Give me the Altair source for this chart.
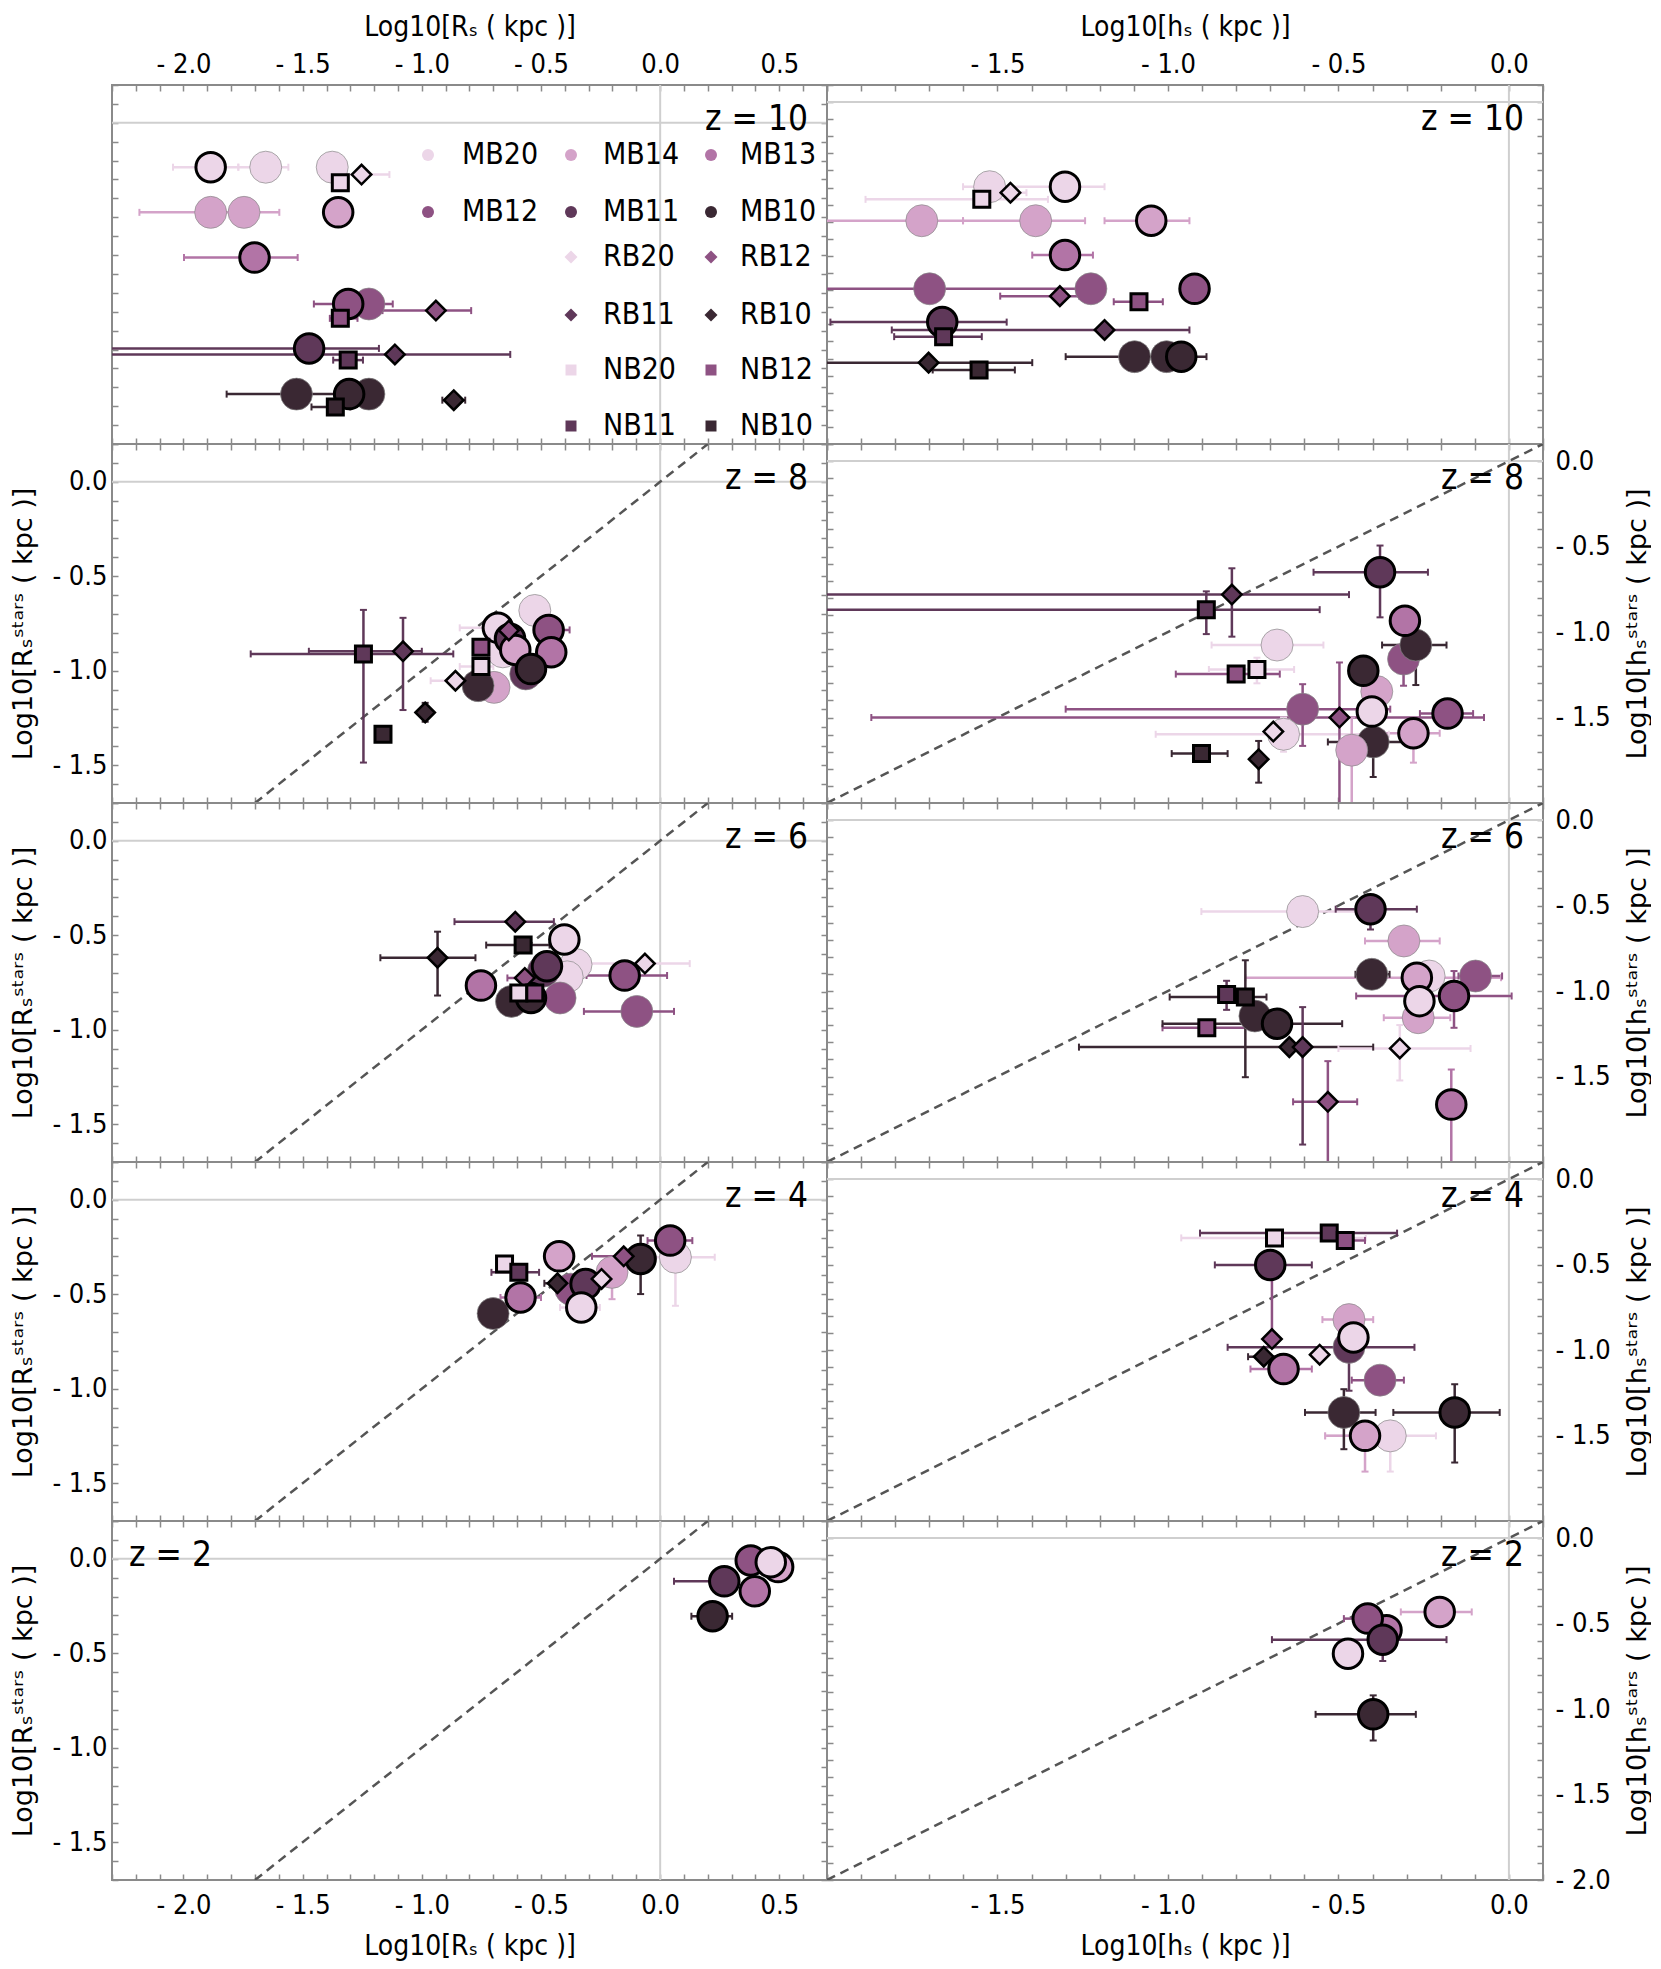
import altair as alt
import pandas as pd

# ---------------- data ----------------
GROUPS = ["20", "14", "13", "12", "11", "10"]
GROUP_COLORS = ["#ecd6e8", "#d4a3c9", "#b274a6", "#8e5283", "#5f3859", "#3a2833"]
LEGEND_NAMES = ["MB20", "MB14", "MB13", "MB12", "MB11", "MB10",
                "RB20", "RB12", "RB11", "RB10", "NB20", "NB12", "NB11", "NB10"]
Z_LABELS = ["z = 10", "z = 8", "z = 6", "z = 4", "z = 2"]

# (name, outlined, x, y, x_lo, x_hi, y_lo, y_hi)
L10 = [
    ("MB20", 0, -1.655, -0.235, -1.77, -1.56, None, None),
    ("MB20", 0, -1.376, -0.235, None, None, None, None),
    ("MB20", 1, -1.886, -0.235, -2.044, -1.77, None, None),
    ("RB20", 1, -1.253, -0.274, -1.367, -1.136, None, None),
    ("NB20", 1, -1.342, -0.318, None, None, None, None),
    ("MB14", 0, -1.886, -0.474, -2.185, -1.598, None, None),
    ("MB14", 0, -1.746, -0.474, None, None, None, None),
    ("MB14", 1, -1.351, -0.474, None, None, None, None),
    ("MB13", 1, -1.702, -0.713, -1.998, -1.521, None, None),
    ("MB12", 0, -1.222, -0.959, None, None, None, None),
    ("MB12", 1, -1.309, -0.959, -1.453, -1.122, None, None),
    ("RB12", 1, -0.941, -0.994, -1.165, -0.793, None, None),
    ("NB12", 1, -1.342, -1.035, -1.386, -1.27, None, None),
    ("MB11", 1, -1.473, -1.194, -2.5, -1.18, None, None),
    ("RB11", 1, -1.113, -1.226, -2.5, -0.629, None, None),
    ("NB11", 1, -1.309, -1.256, -1.372, -1.247, None, None),
    ("MB10", 0, -1.526, -1.436, -1.819, -1.367, None, None),
    ("MB10", 0, -1.222, -1.436, None, None, None, None),
    ("MB10", 1, -1.305, -1.436, None, None, None, None),
    ("NB10", 1, -1.363, -1.504, -1.463, -1.30, None, None),
    ("RB10", 1, -0.866, -1.468, -0.914, -0.818, None, None),
]
R10 = [
    ("MB20", 0, -1.523, -0.495, None, None, None, None),
    ("MB20", 1, -1.302, -0.495, -1.601, -1.186, None, None),
    ("NB20", 1, -1.546, -0.569, -1.887, -1.352, None, None),
    ("RB20", 1, -1.462, -0.530, -1.50, -1.415, None, None),
    ("MB14", 0, -1.722, -0.694, -2.1, -1.601, None, None),
    ("MB14", 0, -1.388, -0.694, -1.601, -1.243, None, None),
    ("MB14", 1, -1.049, -0.694, -1.186, -0.937, None, None),
    ("MB13", 1, -1.302, -0.895, -1.398, -1.22, None, None),
    ("MB12", 0, -1.699, -1.092, -2.1, -1.25, None, None),
    ("MB12", 0, -1.226, -1.092, None, None, None, None),
    ("MB12", 1, -0.922, -1.092, None, None, None, None),
    ("RB12", 1, -1.317, -1.135, -1.492, -1.26, None, None),
    ("NB12", 1, -1.085, -1.168, -1.159, -1.015, None, None),
    ("MB11", 1, -1.662, -1.287, -1.99, -1.473, None, None),
    ("RB11", 1, -1.186, -1.333, -1.81, -0.937, None, None),
    ("NB11", 1, -1.658, -1.372, -1.803, -1.546, None, None),
    ("MB10", 0, -1.098, -1.489, -1.30, -0.887, None, None),
    ("MB10", 0, -1.004, -1.489, None, None, None, None),
    ("MB10", 1, -0.961, -1.489, None, None, None, None),
    ("RB10", 1, -1.702, -1.524, -2.1, -1.398, None, None),
    ("NB10", 1, -1.554, -1.567, -1.69, -1.449, None, None),
]
L8 = [
    ("NB11", 1, -1.245, -0.911, -1.718, -0.868, -1.486, -0.678),
    ("RB11", 1, -1.079, -0.897, -1.474, -1.0, -1.208, -0.720),
    ("RB10", 1, -0.986, -1.221, None, None, -1.27, -1.17),
    ("NB10", 1, -1.163, -1.336, None, None, None, None),
    ("RB20", 1, -0.859, -1.053, -0.963, -0.764, None, None),
    ("MB20", 0, -0.526, -0.681, None, None, None, None),
    ("MB20", 0, -0.660, -0.900, None, None, None, None),
    ("MB14", 0, -0.697, -1.088, None, None, None, None),
    ("MB10", 0, -0.764, -1.079, None, None, None, None),
    ("MB11", 0, -0.564, -1.017, None, None, None, None),
    ("NB12", 1, -0.752, -0.876, None, None, None, None),
    ("NB20", 1, -0.752, -0.978, -0.841, -0.70, None, None),
    ("MB20", 1, -0.681, -0.773, -0.841, -0.62, None, None),
    ("MB11", 1, -0.630, -0.831, None, None, None, None),
    ("RB12", 1, -0.635, -0.787, None, None, None, None),
    ("MB14", 1, -0.608, -0.890, None, None, None, None),
    ("MB12", 1, -0.468, -0.784, -0.53, -0.38, None, None),
    ("MB13", 1, -0.457, -0.902, None, None, None, None),
    ("MB10", 1, -0.542, -0.991, None, None, None, None),
]
R8 = [
    ("RB11", 1, -0.8125, -0.781, -2.1, -0.469, -1.027, -0.627),
    ("NB11", 1, -0.8875, -0.869, -2.1, -0.555, -1.012, -0.762),
    ("MB11", 1, -0.378, -0.650, -0.573, -0.2375, -0.914, -0.494),
    ("MB13", 1, -0.305, -0.934, None, None, None, None),
    ("MB12", 0, -0.309, -1.158, None, None, -1.314, -1.0),
    ("MB10", 0, -0.273, -1.076, -0.372, -0.183, -1.31, None),
    ("MB20", 0, -0.680, -1.076, -0.872, -0.544, None, None),
    ("NB20", 1, -0.739, -1.219, -0.88, -0.63, -1.30, -1.15),
    ("NB12", 1, -0.800, -1.246, -0.977, -0.672, None, None),
    ("MB14", 0, -0.3875, -1.348, None, None, None, None),
    ("MB10", 1, -0.427, -1.227, None, None, None, None),
    ("MB12", 0, -0.605, -1.451, -1.30, -0.348, -1.666, -1.305),
    ("RB12", 1, -0.497, -1.500, -1.87, -0.073, -2.1, -1.178),
    ("MB20", 1, -0.402, -1.465, None, None, None, None),
    ("MB12", 1, -0.180, -1.477, -0.261, -0.105, None, None),
    ("MB20", 0, -0.661, -1.598, -1.036, -0.352, -1.70, -1.50),
    ("RB20", 1, -0.691, -1.582, None, None, None, None),
    ("MB14", 1, -0.280, -1.592, -0.367, -0.203, -1.764, None),
    ("MB10", 0, -0.398, -1.643, -0.531, -0.305, -1.848, None),
    ("MB14", 0, -0.461, -1.691, None, None, -2.1, -1.5),
    ("NB10", 1, -0.9016, -1.711, -0.989, -0.825, None, None),
    ("RB10", 1, -0.734, -1.744, None, None, -1.881, -1.637),
]
L6 = [
    ("RB10", 1, -0.934, -0.619, -1.174, -0.775, -0.819, -0.481),
    ("RB11", 1, -0.608, -0.428, -0.863, -0.446, None, None),
    ("NB10", 1, -0.575, -0.552, -0.73, -0.464, None, None),
    ("MB20", 0, -0.353, -0.655, None, None, None, None),
    ("MB20", 0, -0.390, -0.720, None, None, None, None),
    ("MB20", 1, -0.402, -0.522, None, None, None, None),
    ("MB11", 0, -0.490, -0.690, None, None, None, None),
    ("MB11", 1, -0.475, -0.664, None, None, None, None),
    ("RB20", 1, -0.064, -0.650, -0.353, 0.124, None, None),
    ("MB12", 1, -0.149, -0.713, -0.309, 0.029, None, None),
    ("MB12", 0, -0.098, -0.903, -0.32, 0.058, None, None),
    ("MB13", 1, -0.752, -0.766, None, None, None, None),
    ("MB12", 0, -0.420, -0.832, None, None, None, None),
    ("MB10", 0, -0.624, -0.850, None, None, None, None),
    ("MB10", 1, -0.542, -0.832, None, None, None, None),
    ("RB12", 1, -0.568, -0.726, -0.641, -0.50, None, None),
    ("NB20", 1, -0.593, -0.805, None, None, None, None),
    ("NB12", 1, -0.526, -0.805, None, None, None, None),
]
R6 = [
    ("MB20", 0, -0.605, -0.535, -0.902, -0.45, None, None),
    ("MB11", 1, -0.406, -0.521, -0.508, -0.27, -0.64, None),
    ("MB14", 0, -0.308, -0.707, -0.422, -0.203, None, None),
    ("MB10", 0, -0.402, -0.902, -0.45, -0.35, None, None),
    ("MB14", 1, -0.270, -0.922, -0.773, -0.023, None, None),
    ("MB20", 0, -0.234, -0.912, None, None, None, None),
    ("MB12", 0, -0.098, -0.912, -0.148, -0.02, None, None),
    ("MB12", 1, -0.161, -1.029, -0.448, 0.008, -1.215, -0.883),
    ("MB20", 1, -0.2625, -1.059, None, None, None, None),
    ("MB14", 0, -0.266, -1.156, -0.367, -0.172, None, None),
    ("NB11", 1, -0.828, -1.020, None, None, -1.11, -0.94),
    ("NB10", 1, -0.773, -1.035, -0.995, -0.711, -1.504, -0.82),
    ("NB12", 1, -0.886, -1.215, -1.016, -0.74, None, None),
    ("MB10", 0, -0.745, -1.146, None, None, None, None),
    ("MB10", 1, -0.680, -1.191, -1.016, -0.489, None, None),
    ("RB10", 1, -0.644, -1.328, -1.261, -0.398, None, None),
    ("RB11", 1, -0.605, -1.328, None, None, -1.898, -1.094),
    ("RB20", 1, -0.320, -1.336, -0.50, -0.1125, -1.523, -1.199),
    ("RB12", 1, -0.531, -1.648, -0.633, -0.445, -2.1, -1.41),
    ("MB13", 1, -0.169, -1.664, -0.20, -0.14, -2.1, -1.459),
]
L4 = [
    ("MB10", 0, -0.701, -0.602, None, None, None, None),
    ("NB20", 1, -0.653, -0.340, None, None, None, None),
    ("NB11", 1, -0.593, -0.384, -0.708, -0.508, None, None),
    ("MB13", 1, -0.586, -0.517, -0.67, -0.50, None, None),
    ("MB14", 1, -0.424, -0.299, None, None, None, None),
    ("MB12", 0, -0.375, -0.473, None, None, None, None),
    ("RB10", 1, -0.431, -0.442, -0.486, -0.38, None, None),
    ("MB11", 1, -0.313, -0.446, None, None, None, None),
    ("MB20", 1, -0.331, -0.570, -0.42, -0.253, None, None),
    ("MB14", 0, -0.202, -0.384, None, None, -0.526, None),
    ("RB20", 1, -0.246, -0.419, None, None, None, None),
    ("RB12", 1, -0.153, -0.299, -0.286, -0.12, None, None),
    ("MB10", 1, -0.082, -0.313, None, None, -0.499, -0.189),
    ("MB20", 0, 0.064, -0.304, -0.053, 0.229, -0.561, None),
    ("MB12", 1, 0.042, -0.216, -0.053, 0.135, None, None),
]
R4 = [
    ("NB20", 1, -0.6875, -0.344, -0.961, -0.42, None, None),
    ("NB11", 1, -0.527, -0.316, -0.906, -0.328, None, None),
    ("NB12", 1, -0.480, -0.359, None, -0.422, None, None),
    ("MB11", 1, -0.700, -0.502, -0.8625, -0.578, None, None),
    ("RB12", 1, -0.695, -0.936, None, None, None, -0.502),
    ("RB10", 1, -0.719, -1.039, -0.765, -0.67, None, None),
    ("MB13", 1, -0.661, -1.111, -0.758, -0.578, None, None),
    ("RB20", 1, -0.555, -1.027, None, None, None, None),
    ("MB14", 0, -0.469, -0.822, -0.547, -0.398, None, None),
    ("MB11", 0, -0.469, -0.984, -0.825, -0.277, -1.238, None),
    ("MB20", 1, -0.456, -0.926, None, None, None, None),
    ("MB12", 0, -0.378, -1.176, -0.461, -0.308, None, None),
    ("MB10", 0, -0.484, -1.365, -0.598, -0.391, -1.58, -1.229),
    ("MB10", 1, -0.159, -1.365, -0.339, -0.027, -1.658, -1.2),
    ("MB20", 0, -0.348, -1.502, -0.539, -0.214, -1.711, None),
    ("MB14", 1, -0.422, -1.502, -0.539, -0.39, -1.711, None),
]
L2 = [
    ("MB14", 1, 0.495, -0.044, None, None, None, None),
    ("MB12", 1, 0.380, -0.009, None, None, None, None),
    ("MB20", 1, 0.464, -0.018, None, None, None, None),
    ("MB11", 1, 0.269, -0.119, 0.058, None, None, None),
    ("MB13", 1, 0.397, -0.172, None, None, None, None),
    ("MB10", 1, 0.220, -0.304, 0.131, 0.302, None, None),
]
R2 = [
    ("MB14", 1, -0.203, -0.432, -0.317, -0.109, None, None),
    ("MB13", 1, -0.359, -0.539, None, None, None, None),
    ("MB12", 1, -0.414, -0.471, -0.484, None, None, None),
    ("MB11", 1, -0.370, -0.594, -0.695, -0.183, -0.719, None),
    ("MB20", 1, -0.472, -0.676, None, None, None, None),
    ("MB10", 1, -0.398, -1.031, -0.567, -0.273, -1.184, -0.92),
]

ROWS = [(L10, R10), (L8, R8), (L6, R6), (L4, R4), (L2, R2)]

# ---------------- styling ----------------
FONT_C = "'DejaVu Sans Condensed', 'Liberation Sans Narrow', 'DejaVu Sans', sans-serif"
FONT_N = "'DejaVu Sans', sans-serif"
W_L, W_R, H = 715, 716, 359
XDOM = {"L": [-2.3, 0.7], "R": [-2.0, 0.1]}
YDOM = {"L": [-1.7, 0.2], "R": [-2.0, 0.1]}
SHAPE = {"MB": "circle", "RB": "diamond", "NB": "square"}

COLOR = alt.Color("grp:N", scale=alt.Scale(domain=GROUPS, range=GROUP_COLORS), legend=None)

LABEL_FMT = "(datum.value < 0 ? '- ' + format(-datum.value, '.1f') : format(datum.value, '.1f'))"


def tick_vals(lo, hi):
    n = int(round((hi - lo) * 10))
    return [round(lo + k / 10, 1) for k in range(n + 1)]


def make_axis(orient, vals, shown, title, W, pad):
    if shown:
        arr = "[" + ",".join(str(v) for v in shown) + "]"
        expr = f"indexof({arr}, round(datum.value*10)/10) >= 0 ? {LABEL_FMT} : ''"
    else:
        expr = "''"
    kw = dict(orient=orient, values=vals, labelExpr=expr, tickSize=6, tickWidth=1.5,
              tickColor="#8a8a8a", offset=-6, domain=False, grid=False,
              labelFont=FONT_C, labelFontSize=27, labelColor="black",
              labelFlush=False, labelOverlap=False, labelBound=False, labelPadding=pad,
              title=title)
    if title:
        kw.update(titleFontWeight="normal", titleColor="black",
                  titleAlign="center", titleBaseline="middle")
        if orient == "top":
            kw.update(titleX=W / 2, titleY=-64, titleFont=FONT_C, titleFontSize=28)
        elif orient == "bottom":
            kw.update(titleX=W / 2, titleY=72, titleFont=FONT_C, titleFontSize=28)
        elif orient == "left":
            kw.update(titleX=-95, titleY=H / 2, titleAngle=270, titleFont=FONT_N, titleFontSize=27)
        else:
            kw.update(titleX=100, titleY=H / 2, titleAngle=270, titleFont=FONT_N, titleFontSize=27)
    return alt.Axis(**kw)


def panel(pts, side, row):
    W = W_L if side == "L" else W_R
    xd, yd = XDOM[side], YDOM[side]
    xs = alt.Scale(domain=xd, nice=False, zero=False)
    ys = alt.Scale(domain=yd, nice=False, zero=False)
    xv, yv = tick_vals(*xd), tick_vals(*yd)

    xlab = [-2.0, -1.5, -1.0, -0.5, 0.0, 0.5] if side == "L" else [-1.5, -1.0, -0.5, 0.0]
    ylab = [0.0, -0.5, -1.0, -1.5]
    if side == "R" and row == 4:
        ylab = ylab + [-2.0]
    xname = "Log10[Rₛ ( kpc )]" if side == "L" else "Log10[hₛ ( kpc )]"
    yname = "Log10[Rₛˢᵗᵃʳˢ ( kpc )]" if side == "L" else "Log10[hₛˢᵗᵃʳˢ ( kpc )]"

    ax_bottom = make_axis("bottom", xv, xlab if row == 4 else None, xname if row == 4 else None, W, 12)
    ax_top = make_axis("top", xv, xlab if row == 0 else None, xname if row == 0 else None, W, 7)
    show_l = side == "L" and row > 0
    show_r = side == "R" and row > 0
    ax_left = make_axis("left", yv, ylab if show_l else None, yname if show_l else None, W, 5)
    ax_right = make_axis("right", yv, ylab if show_r else None, yname if show_r else None, W, 12)

    one = alt.Data(values=[{"v": 0}])
    layers = []
    layers.append(alt.Chart(one).mark_point(opacity=0, size=1).encode(
        x=alt.X("v:Q", scale=xs, axis=ax_bottom), y=alt.Y("v:Q", scale=ys, axis=ax_left)))
    layers.append(alt.Chart(one).mark_point(opacity=0, size=1).encode(
        x=alt.X("v:Q", scale=xs, axis=ax_top), y=alt.Y("v:Q", scale=ys, axis=ax_right)))
    # zero lines
    layers.append(alt.Chart(one).mark_rule(color="#cfcfcf", strokeWidth=2).encode(
        x=alt.X("v:Q", scale=xs, axis=None)))
    layers.append(alt.Chart(one).mark_rule(color="#cfcfcf", strokeWidth=2).encode(
        y=alt.Y("v:Q", scale=ys, axis=None)))
    # one-to-one line
    if row > 0:
        lo, hi = max(xd[0], yd[0]), min(xd[1], yd[1])
        diag = alt.Data(values=[{"d": lo}, {"d": hi}])
        layers.append(alt.Chart(diag).mark_line(color="#555555", strokeWidth=2.5,
                                                strokeDash=[9, 6], clip=True).encode(
            x=alt.X("d:Q", scale=xs, axis=None), y=alt.Y("d:Q", scale=ys, axis=None)))

    hb, vb, hc, vc, pr = [], [], [], [], []
    for name, o, x, y, xlo, xhi, ylo, yhi in pts:
        g = name[2:]
        pr.append(dict(kind=name[:2], grp=g, out=o, x=x, y=y))
        if xlo is not None or xhi is not None:
            hb.append(dict(grp=g, y=y, xa=x if xlo is None else xlo, xb=x if xhi is None else xhi))
            for e in (xlo, xhi):
                if e is not None:
                    hc.append(dict(grp=g, x=e, y=y))
        if ylo is not None or yhi is not None:
            vb.append(dict(grp=g, x=x, ya=y if ylo is None else ylo, yb=y if yhi is None else yhi))
            for e in (ylo, yhi):
                if e is not None:
                    vc.append(dict(grp=g, x=x, y=e))

    if hb:
        layers.append(alt.Chart(pd.DataFrame(hb)).mark_rule(strokeWidth=2.5, clip=True).encode(
            x=alt.X("xa:Q", scale=xs, axis=None), x2="xb:Q",
            y=alt.Y("y:Q", scale=ys, axis=None), color=COLOR))
        layers.append(alt.Chart(pd.DataFrame(hc)).mark_tick(orient="vertical", size=7, thickness=2,
                                                            opacity=1, clip=True).encode(
            x=alt.X("x:Q", scale=xs, axis=None), y=alt.Y("y:Q", scale=ys, axis=None), color=COLOR))
    if vb:
        layers.append(alt.Chart(pd.DataFrame(vb)).mark_rule(strokeWidth=2.5, clip=True).encode(
            x=alt.X("x:Q", scale=xs, axis=None),
            y=alt.Y("ya:Q", scale=ys, axis=None), y2="yb:Q", color=COLOR))
        layers.append(alt.Chart(pd.DataFrame(vc)).mark_tick(orient="horizontal", size=7, thickness=2,
                                                            opacity=1, clip=True).encode(
            x=alt.X("x:Q", scale=xs, axis=None), y=alt.Y("y:Q", scale=ys, axis=None), color=COLOR))

    pdf = pd.DataFrame(pr)
    styles = [
        ("MB", 0, dict(shape="circle", size=1024, stroke="#8a8a8a", strokeWidth=0.7)),
        ("MB", 1, dict(shape="circle", size=870, stroke="black", strokeWidth=3)),
        ("RB", 1, dict(shape="diamond", size=380, stroke="black", strokeWidth=2.5)),
        ("NB", 1, dict(shape="square", size=256, stroke="black", strokeWidth=3)),
    ]
    for kind, o, st in styles:
        sub = pdf[(pdf.kind == kind) & ((pdf.out == o) | (kind != "MB"))]
        if len(sub) == 0:
            continue
        layers.append(alt.Chart(sub).mark_point(filled=True, opacity=1, clip=True, **st).encode(
            x=alt.X("x:Q", scale=xs, axis=None), y=alt.Y("y:Q", scale=ys, axis=None), color=COLOR))

    # redshift label
    zdat = alt.Data(values=[{"t": Z_LABELS[row]}])
    if side == "L" and row == 4:
        zt = alt.Chart(zdat).mark_text(align="left", baseline="alphabetic", fontSize=35,
                                       font=FONT_C, color="black").encode(
            x=alt.value(17), y=alt.value(45), text="t:N")
    else:
        zt = alt.Chart(zdat).mark_text(align="right", baseline="alphabetic", fontSize=35,
                                       font=FONT_C, color="black").encode(
            x=alt.value(W - 19), y=alt.value(45), text="t:N")
    layers.append(zt)

    # legend (top-left panel)
    if side == "L" and row == 0:
        sym_x = [316, 459, 599]
        txt_x = [350, 491, 628]
        row_y = [70, 127, 172, 230, 285, 341]
        lg = []
        for i, nm in enumerate(LEGEND_NAMES):
            if i < 6:
                c, r = i % 3, i // 3
            else:
                c, r = 1 + (i - 6) % 2, 2 + (i - 6) // 2
            px2x = lambda p: xd[0] + p / W * (xd[1] - xd[0])
            py2y = lambda p: yd[1] - p / H * (yd[1] - yd[0])
            lg.append(dict(name=nm, kind=nm[:2], grp=nm[2:], sx=px2x(sym_x[c]),
                           tx=px2x(txt_x[c]), ly=py2y(row_y[r])))
        ldf = pd.DataFrame(lg)
        for kind, sz in (("MB", 144), ("RB", 170), ("NB", 121)):
            layers.append(alt.Chart(ldf[ldf.kind == kind]).mark_point(
                filled=True, opacity=1, shape=SHAPE[kind], size=sz, strokeWidth=0).encode(
                x=alt.X("sx:Q", scale=xs, axis=None), y=alt.Y("ly:Q", scale=ys, axis=None),
                color=COLOR))
        layers.append(alt.Chart(ldf).mark_text(align="left", baseline="middle", fontSize=30,
                                               font=FONT_C, color="black").encode(
            x=alt.X("tx:Q", scale=xs, axis=None), y=alt.Y("ly:Q", scale=ys, axis=None),
            text="name:N"))

    return alt.layer(*layers).properties(width=W, height=H).resolve_axis(
        x="independent", y="independent")


panels = []
for r, (lp, rp) in enumerate(ROWS):
    panels.append(panel(lp, "L", r))
    panels.append(panel(rp, "R", r))

chart = alt.concat(*panels, columns=2, spacing=0, bounds="flush").resolve_scale(
    x="independent", y="independent", color="shared"
).configure_view(stroke="#8a8a8a", strokeWidth=2).properties(
    padding={"left": 0, "top": 4, "right": 0, "bottom": 0}
)

chart.save("out.html", embed_options={"renderer": "svg", "actions": False})
